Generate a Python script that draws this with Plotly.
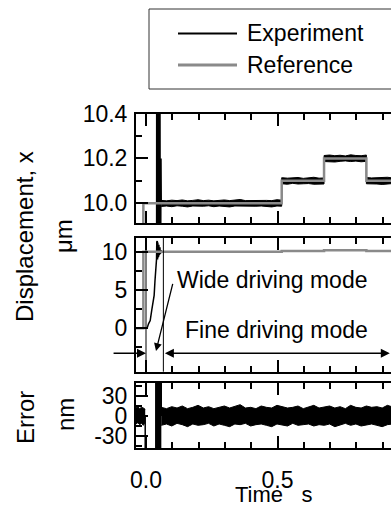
import numpy as np
import plotly.graph_objects as go

W, H = 391, 506

# ---------------- data ----------------
series_names = ["Experiment", "Reference"]

# Reference trajectory, µm
ref_t = [-0.040, -0.010, -0.010, 0.516, 0.516, 0.677, 0.677, 0.838, 0.838, 1.0]
ref_um = [0.0, 0.0, 10.0, 10.0, 10.1, 10.1, 10.2, 10.2, 10.1, 10.1]

# Experiment during start / wide driving mode, µm
exp_tr_t = [-0.038, 0.004, 0.010, 0.016, 0.022, 0.027, 0.031, 0.034, 0.037, 0.040,
            0.041, 0.042, 0.043, 0.044, 0.045, 0.046, 0.047, 0.048, 0.049, 0.050,
            0.051, 0.052, 0.053, 0.054, 0.055, 0.056, 0.057, 0.058]
exp_tr_um = [0.0, 0.0, 0.6, 1.0, 2.4, 3.3, 4.3, 6.1, 7.4, 9.0,
             11.3, 9.2, 11.4, 9.0, 11.2, 9.3, 11.0, 9.4, 10.9, 9.6,
             10.7, 9.7, 10.6, 9.8, 10.4, 9.85, 10.2, 10.0]

# Tracking-error envelope in fine driving mode, nm
noise_t = [0.058, 0.078, 0.098, 0.118, 0.138, 0.158, 0.178, 0.198, 0.218, 0.238,
           0.258, 0.278, 0.298, 0.318, 0.338, 0.358, 0.378, 0.398, 0.418, 0.438,
           0.458, 0.478, 0.498, 0.518, 0.538, 0.558, 0.578, 0.598, 0.618, 0.638,
           0.658, 0.678, 0.698, 0.718, 0.738, 0.758, 0.778, 0.798, 0.818, 0.838,
           0.858, 0.878, 0.898, 0.918, 0.938, 0.958, 0.978, 0.998]
err_hi_nm = [13, 11, 14, 12, 15, 11, 13, 16, 12, 14,
             11, 13, 15, 12, 14, 17, 12, 13, 11, 15,
             13, 12, 16, 14, 12, 13, 15, 11, 14, 16,
             12, 13, 15, 12, 14, 11, 16, 13, 12, 15,
             13, 14, 12, 16, 13, 11, 14, 12]
err_lo_nm = [-14, -12, -15, -11, -13, -16, -12, -14, -13, -11,
             -15, -12, -14, -16, -12, -13, -11, -15, -13, -12,
             -14, -16, -12, -13, -15, -11, -14, -13, -12, -15,
             -13, -14, -12, -16, -13, -11, -14, -12, -15, -13,
             -12, -14, -16, -13, -12, -14, -15, -13]

# Error envelope before the start, nm
pre_t = [-0.038, -0.031, -0.024, -0.017, -0.010, -0.003]
pre_hi_nm = [12, 14, 11, 13, 12, 10]
pre_lo_nm = [-12, -10, -13, -11, -14, -9]

# Error during the wide-mode transient, nm (off scale)
err_tr_t = [-0.003, -0.002, 0.035, 0.036, 0.037, 0.038, 0.039, 0.040, 0.041, 0.042,
            0.043, 0.044, 0.045, 0.046, 0.047, 0.048, 0.049, 0.050, 0.051, 0.052,
            0.053, 0.054, 0.055, 0.056, 0.057, 0.058]
err_tr_nm = [0, -10000, -10000, 3000, -3000, 3000, -3000, 3000, -3000, 3000,
             -3000, 3000, -3000, 3000, -3000, 3000, -3000, 3000, -3000, 3000,
             -3000, 3000, -3000, 3000, -3000, 0]

# mode boundaries (s)
mode_bounds = [0.0, 0.066]

# tick labels
x_tickvals = [0.0, 0.5, 1.0]
x_ticktext = ["0.0", "0.5", "1.0"]
top_tickvals = [10.0, 10.2, 10.4]
top_ticktext = ["10.0", "10.2", "10.4"]
mid_tickvals = [0, 5, 10]
mid_ticktext = ["0", "5", "10"]
err_tickvals = [-30, 0, 30]
err_ticktext = ["-30", "0", "30"]

# ---------------- derived ----------------
ref_t_a = np.array(ref_t)
ref_um_a = np.array(ref_um)


def ref_at(t):
    i = np.searchsorted(ref_t_a, t, side="right") - 1
    return ref_um_a[i]


steps = [0.516, 0.677, 0.838]
band_t = sorted(set(noise_t + [s - 1e-4 for s in steps] + [s + 1e-4 for s in steps]))
band_t = np.array(band_t)
b_hi = np.interp(band_t, noise_t, err_hi_nm)
b_lo = np.interp(band_t, noise_t, err_lo_nm)
exp_hi = ref_at(band_t) + b_hi / 1000.0
exp_lo = ref_at(band_t) + b_lo / 1000.0

BLACK = "black"
GREY = "#8a8a8a"
FONT = "Liberation Sans, Arial, sans-serif"
FS = 23

fig = go.Figure()

# displacement panels (top: x/y, middle: x2/y2)
for xa, ya in [("x", "y"), ("x2", "y2")]:
    fig.add_trace(go.Scatter(x=exp_tr_t, y=exp_tr_um, mode="lines",
                             line=dict(color=BLACK, width=1.5),
                             xaxis=xa, yaxis=ya, showlegend=False, name=series_names[0]))
    fig.add_trace(go.Scatter(x=band_t, y=exp_hi, mode="lines",
                             line=dict(color=BLACK, width=1),
                             xaxis=xa, yaxis=ya, showlegend=False, name=series_names[0]))
    fig.add_trace(go.Scatter(x=band_t, y=exp_lo, mode="lines", fill="tonexty",
                             fillcolor=BLACK, line=dict(color=BLACK, width=1),
                             xaxis=xa, yaxis=ya, showlegend=False, name=series_names[0]))
    fig.add_trace(go.Scatter(x=ref_t, y=ref_um, mode="lines",
                             line=dict(color=GREY, width=2.5),
                             xaxis=xa, yaxis=ya, showlegend=False, name=series_names[1]))

# error panel (x3/y3)
fig.add_trace(go.Scatter(x=pre_t, y=pre_hi_nm, mode="lines", line=dict(color=BLACK, width=1),
                         xaxis="x3", yaxis="y3", showlegend=False))
fig.add_trace(go.Scatter(x=pre_t, y=pre_lo_nm, mode="lines", fill="tonexty", fillcolor=BLACK,
                         line=dict(color=BLACK, width=1), xaxis="x3", yaxis="y3", showlegend=False))
fig.add_trace(go.Scatter(x=err_tr_t, y=err_tr_nm, mode="lines", line=dict(color=BLACK, width=1.5),
                         xaxis="x3", yaxis="y3", showlegend=False))
fig.add_trace(go.Scatter(x=noise_t, y=err_hi_nm, mode="lines", line=dict(color=BLACK, width=1),
                         xaxis="x3", yaxis="y3", showlegend=False))
fig.add_trace(go.Scatter(x=noise_t, y=err_lo_nm, mode="lines", fill="tonexty", fillcolor=BLACK,
                         line=dict(color=BLACK, width=1), xaxis="x3", yaxis="y3", showlegend=False))

x_left_px, x0_px, px_per_s = 136.0, 146.0, 263.0
x_range = [(x_left_px - x0_px) / px_per_s, (W - x0_px) / px_per_s]
x_dom = [x_left_px / W, 1.0]


def pdom(top_px, bot_px):
    return [(H - bot_px) / H, (H - top_px) / H]


common_x = dict(domain=x_dom, range=x_range, showline=True, linecolor=BLACK, linewidth=2,
                mirror="ticks", ticks="inside", ticklen=12, tickwidth=1.5, tickcolor=BLACK,
                tickvals=x_tickvals, ticktext=x_ticktext, showgrid=False, zeroline=False,
                automargin=False,
                minor=dict(ticks="inside", ticklen=6, tickwidth=1.5, tickcolor=BLACK, dtick=0.1,
                           showgrid=False))
common_y = dict(showline=True, linecolor=BLACK, linewidth=2, mirror=False, ticks="inside",
                ticklen=12, tickwidth=1.5, tickcolor=BLACK, showgrid=False, zeroline=False,
                ticklabelstandoff=2, automargin=False)

fig.update_layout(
    template="none",
    width=W, height=H,
    margin=dict(l=0, r=0, t=0, b=0, pad=0, autoexpand=False),
    paper_bgcolor="white", plot_bgcolor="white",
    font=dict(family=FONT, size=FS, color=BLACK),
    xaxis=dict(common_x, anchor="y", showticklabels=False),
    yaxis=dict(common_y, anchor="x", domain=pdom(113.5, 223.3), range=[9.911, 10.4],
               tickvals=top_tickvals, ticktext=top_ticktext,
               minor=dict(ticks="inside", ticklen=6, tickwidth=1.5, tickcolor=BLACK, dtick=0.1)),
    xaxis2=dict(common_x, anchor="y2", showticklabels=False, matches="x"),
    yaxis2=dict(common_y, anchor="x2", domain=pdom(238, 371.7), range=[-5.7, 11.8],
                tickvals=mid_tickvals, ticktext=mid_ticktext,
                minor=dict(ticks="inside", ticklen=6, tickwidth=1.5, tickcolor=BLACK,
                           tickvals=[-2.5, 2.5, 7.5])),
    xaxis3=dict(common_x, anchor="y3", showticklabels=True, matches="x",
                ticklabelstandoff=10),
    yaxis3=dict(common_y, anchor="x3", domain=pdom(382.7, 448.3), range=[-48.5, 50],
                tickvals=err_tickvals, ticktext=err_ticktext,
                minor=dict(ticks="inside", ticklen=6, tickwidth=1.5, tickcolor=BLACK,
                           tickvals=[-45, -15, 15, 45])),
)

shapes = []
# mode boundaries in middle panel
for b in mode_bounds:
    shapes.append(dict(type="line", xref="x2", yref="y2 domain", x0=b, x1=b, y0=0, y1=1,
                       line=dict(color=BLACK, width=1)))
# legend box
shapes.append(dict(type="rect", xref="paper", yref="paper", x0=149 / W, x1=1.05,
                   y0=(H - 89) / H, y1=(H - 9) / H, line=dict(color="#333", width=1)))
shapes.append(dict(type="line", xref="paper", yref="paper", x0=178 / W, x1=237 / W,
                   y0=(H - 33.5) / H, y1=(H - 33.5) / H, line=dict(color=BLACK, width=2)))
shapes.append(dict(type="line", xref="paper", yref="paper", x0=178 / W, x1=237 / W,
                   y0=(H - 65) / H, y1=(H - 65) / H, line=dict(color=GREY, width=3)))
fig.update_layout(shapes=shapes)


def label(x_px, y_px, text, size=FS, angle=0, xanchor="center"):
    return dict(xref="paper", yref="paper", x=x_px / W, y=(H - y_px) / H, text=text,
                textangle=angle, showarrow=False, xanchor=xanchor, yanchor="middle",
                font=dict(size=size))


ann = []
ann.append(label(245, 33.5, series_names[0], xanchor="left"))
ann.append(label(245, 65, series_names[1], xanchor="left"))
# axis titles
ann.append(label(25, 237, "Displacement, x", size=24, angle=-90))
ann.append(label(63, 236, "μm", size=24, angle=-90))
ann.append(label(25, 418, "Error", size=24, angle=-90))
ann.append(label(65, 415, "nm", size=24, angle=-90))
ann.append(label(273, 494, "Time\u00a0\u00a0\u00a0s", size=22))
# mode annotations (middle panel)
ann.append(dict(xref="x2", yref="y2", x=0.110, y=6.3, text="Wide driving mode",
                showarrow=False, xanchor="left", yanchor="middle"))
ann.append(dict(xref="x2", yref="y2", x=0.141, y=-0.3, text="Fine driving mode",
                showarrow=False, xanchor="left", yanchor="middle"))
ann.append(dict(xref="x2", yref="y2", x=0.038, y=-3.0, axref="x2", ayref="y2",
                ax=0.103, ay=6.0, text="", showarrow=True, arrowhead=2, arrowsize=1.2,
                arrowwidth=1.3, arrowcolor=BLACK))
ann.append(dict(xref="x2", yref="y2", x=0.0, y=-3.3, axref="x2", ayref="y2",
                ax=-0.129, ay=-3.3, text="", showarrow=True, arrowhead=2, arrowsize=1.2,
                arrowwidth=1.5, arrowcolor=BLACK))
ann.append(dict(xref="x2", yref="y2", x=0.927, y=-3.3, axref="x2", ayref="y2",
                ax=0.066, ay=-3.3, text="", showarrow=True, arrowhead=2, startarrowhead=2,
                arrowside="end+start", arrowsize=1.2, startarrowsize=1.2,
                arrowwidth=1.5, arrowcolor=BLACK))
fig.update_layout(annotations=ann)

fig.write_html("out.html", config={"displayModeBar": False, "responsive": False},
               post_script="document.body.style.margin='0';document.body.style.padding='0';"
                           "document.documentElement.style.overflow='hidden';")
